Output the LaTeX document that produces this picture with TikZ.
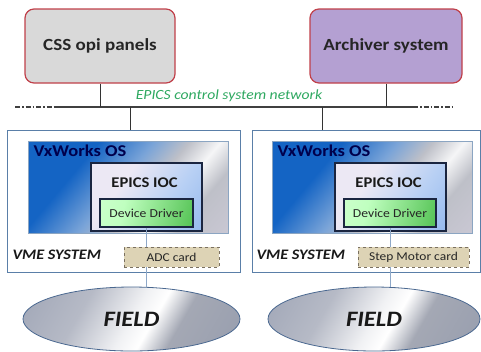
\documentclass[tikz,border=0pt]{standalone}
\usepackage{fontspec}
\setmainfont{Carlito}[FakeStretch=1.12]
\definecolor{boxred}{HTML}{C0404A}
\definecolor{cssgray}{HTML}{D9D9D9}
\definecolor{archpurple}{HTML}{B4A0D2}
\definecolor{netgreen}{HTML}{2EA860}
\definecolor{vmeline}{HTML}{5A7FA8}
\definecolor{iocline}{HTML}{1A2540}
\definecolor{cardfill}{HTML}{DDD3B5}
\definecolor{cardline}{HTML}{7A7060}
\definecolor{busline}{HTML}{8EA8C8}
\definecolor{fieldline}{HTML}{4A6890}
\definecolor{osblue}{HTML}{1464C4}
\definecolor{osmid}{HTML}{7AA4D8}
\definecolor{ossilver}{HTML}{BEC0C8}
\definecolor{oslav}{HTML}{D6D0E0}
\definecolor{iocpale}{HTML}{ECE8F4}
\definecolor{iocsky}{HTML}{B8D0F4}
\definecolor{iocblue}{HTML}{7EAAEA}
\definecolor{metdark}{HTML}{8E96AA}
\definecolor{metmid}{HTML}{B6BAC6}
\definecolor{metgray}{HTML}{A4A8B4}
\pgfdeclarehorizontalshading{vxos}{100bp}{color(0bp)=(osblue);
  color(33bp)=(osblue); color(47bp)=(osmid);
  color(56bp)=(ossilver); color(64bp)=(white!85!ossilver); color(72bp)=(ossilver); color(100bp)=(oslav)}
\pgfdeclarehorizontalshading{ioc}{100bp}{color(0bp)=(iocpale);
  color(35bp)=(iocpale); color(62bp)=(iocsky); color(100bp)=(iocblue)}
\pgfdeclarehorizontalshading{driver}{100bp}{color(0bp)=(green!15!white);
  color(35bp)=(green!25!white); color(100bp)=(green!60!black!85)}
\pgfdeclarehorizontalshading{metal}{100bp}{color(0bp)=(metdark);
  color(35bp)=(metmid); color(50bp)=(white!80!metmid); color(56bp)=(white);
  color(64bp)=(metgray); color(100bp)=(metdark)}
\tikzset{
  topbox/.style={draw=boxred, line width=1.2pt, rounded corners=9pt,
    minimum width=150pt, minimum height=74pt, font=\fontsize{17}{19}\selectfont\bfseries, text=black!85},
  vmebox/.style={draw=vmeline, line width=0.8pt, fill=white, minimum height=142pt},
  osbox/.style={draw=vmeline!70, line width=0.6pt, shading=vxos, shading angle=-40,
    minimum width=200pt, minimum height=92pt},
  iocbox/.style={draw=iocline, line width=1.2pt, shading=ioc, shading angle=-35,
    minimum width=111pt, minimum height=68pt},
  drvbox/.style={draw=iocline, line width=1.1pt, shading=driver, shading angle=-15,
    minimum width=93pt, minimum height=28pt, font=\fontsize{12.2}{14}\selectfont, text=black!85},
  cardbox/.style={draw=cardline, dashed, line width=0.7pt, fill=cardfill,
    minimum height=20pt, font=\fontsize{12}{13}\selectfont, text=black!85},
  fieldell/.style={ellipse, draw=fieldline, line width=0.8pt, shading=metal, shading angle=-30,
    minimum height=64pt, font=\fontsize{22}{24}\selectfont\bfseries\itshape, text=black!90},
  netline/.style={draw=black!75, line width=1.4pt},
  netdash/.style={draw=black!75, line width=1.4pt, dash pattern=on 5pt off 2pt on 1.5pt off 2pt},
  link/.style={draw=black!80, line width=1pt},
  bus/.style={draw=busline, line width=0.6pt},
  oslabel/.style={anchor=west, font=\fontsize{16.5}{18}\selectfont\bfseries, text=blue!30!black},
  ioclabel/.style={font=\fontsize{14.8}{17}\selectfont\bfseries, text=black!90},
  vmelabel/.style={anchor=west, font=\fontsize{14.5}{16}\selectfont\bfseries\itshape, text=black!90},
}
\usetikzlibrary{shapes.geometric}
\begin{document}
\begin{tikzpicture}[x=1pt,y=-1pt]
  \useasboundingbox (0,0) rectangle (481,351);
  % upper systems
  \node[topbox, fill=cssgray] (css) at (100,46) {CSS opi panels};
  \node[topbox, fill=archpurple, minimum width=152pt] (arch) at (386,46) {Archiver system};
  % control network
  \coordinate (netL) at (15,107);
  \coordinate (netA) at (55,107);
  \coordinate (netB) at (413,107);
  \coordinate (netR) at (453,107);
  \coordinate (tap1) at (130,107);
  \coordinate (tap2) at (322,107);
  \draw[netdash] (netL) -- (netA);
  \draw[netline] (netA) -- (netB);
  \draw[netdash] (netB) -- (netR);
  \draw[link] (css.south) -- (css.south |- netA);
  \draw[link] (arch.south) -- (arch.south |- netA);
  \node[text=netgreen, font=\fontsize{14}{16}\selectfont\itshape] (netlabel) at (229,96)
    {EPICS control system network};
  % VME crates
  \node[vmebox, minimum width=233pt] (vme1) at (123.5,201) {};
  \node[vmebox, minimum width=228pt] (vme2) at (366,201) {};
  \draw[link] (tap1) -- (tap1 |- vme1.north);
  \draw[link] (tap2) -- (tap2 |- vme2.north);
  \node[osbox] (os1) at (128,187) {};
  \node[osbox] (os2) at (372,187) {};
  \node[oslabel] (oslab1) at (30,151) {VxWorks OS};
  \node[oslabel] (oslab2) at (274,151) {VxWorks OS};
  \node[iocbox] (ioc1) at (146.5,197) {};
  \node[iocbox] (ioc2) at (390.5,197) {};
  \node[ioclabel] (ioclab1) at (144.5,183) {EPICS IOC};
  \node[ioclabel] (ioclab2) at (388.5,183) {EPICS IOC};
  \node[drvbox] (drv1) at (146.5,213) {Device Driver};
  \node[drvbox, minimum width=92pt] (drv2) at (390,213) {Device Driver};
  \node[cardbox, minimum width=95pt] (card1) at (171.5,257) {ADC card};
  \node[cardbox, minimum width=111pt] (card2) at (413.5,257) {Step Motor card};
  \node[vmelabel] (vmelab1) at (9,255) {VME SYSTEM};
  \node[vmelabel] (vmelab2) at (253,255) {VME SYSTEM};
  % field
  \node[fieldell, minimum width=217pt] (field1) at (131.5,319) {FIELD};
  \node[fieldell, minimum width=212pt] (field2) at (374,319) {FIELD};
  \draw[bus] (drv1.south) -- (drv1.south |- card1.north)
             (drv1.south |- card1.south) -- (drv1.south |- field1.north);
  \draw[bus] (drv2.south) -- (drv2.south |- card2.north)
             (drv2.south |- card2.south) -- (drv2.south |- field2.north);
\end{tikzpicture}
\end{document}
